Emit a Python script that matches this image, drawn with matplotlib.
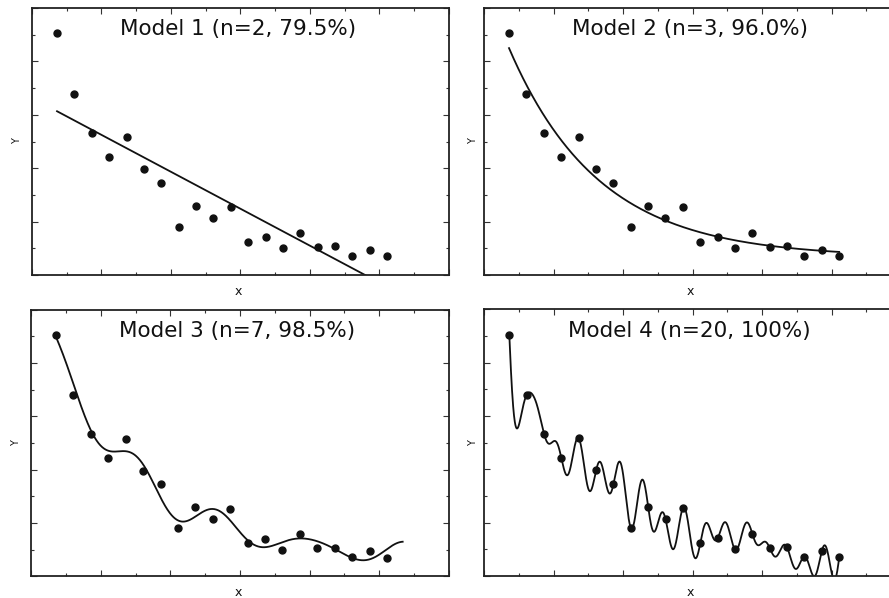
import numpy as np
import matplotlib
matplotlib.use("Agg")
import matplotlib.pyplot as plt
from matplotlib.ticker import MultipleLocator

# ---- data (x in axis units 0..6, y in axis units 0..100)
x_vals = [0.36, 0.61, 0.86, 1.11, 1.36, 1.61, 1.86, 2.11, 2.36, 2.61,
          2.86, 3.11, 3.36, 3.61, 3.86, 4.11, 4.36, 4.61, 4.86, 5.11]
y_vals = [90.5, 67.9, 53.3, 44.2, 51.6, 39.6, 34.5, 18.1, 25.9, 21.3,
          25.4, 12.3, 14.1, 10.0, 15.8, 10.5, 10.7, 7.3, 9.4, 7.0]
titles = ["Model 1 (n=2, 79.5%)", "Model 2 (n=3, 96.0%)",
          "Model 3 (n=7, 98.5%)", "Model 4 (n=20, 100%)"]
curve_ends = [5.34, 5.11, 5.335, 5.11]

x = np.array(x_vals)
y = np.array(y_vals)
N = len(x)
h = x[1] - x[0]

# ---- fitted curves derived from the data
def exp_fit():
    best = None
    for tau in np.linspace(0.2, 6, 600):
        A = np.c_[np.ones_like(x), np.exp(-x / tau)]
        c, *_ = np.linalg.lstsq(A, y, rcond=None)
        r = np.sum((A @ c - y) ** 2)
        if best is None or r < best[0]:
            best = (r, tau, c)
    return best[1], best[2]

tau, ce = exp_fit()
trend = lambda t: ce[0] + ce[1] * np.exp(-t / tau)
res = y - trend(x)

def model1(t):
    return np.polyval(np.polyfit(x, y, 1), t)

def model2(t):
    return trend(t)

def model3(t):
    ut = (t - x[0]) / h
    c = np.fft.fft(res) / N
    ks = np.argsort(-np.abs(c[1:N // 2]))[:2] + 1
    out = trend(t)
    for k in ks:
        out = out + 2 * (c[k] * np.exp(2j * np.pi * k * ut / N)).real
    return out

def harm(t, P, K, p):
    cols = []
    for k in range(1, K + 1):
        w = 2 * np.pi * k / P
        s = (k / K) ** p
        cols += [s * np.cos(w * t), s * np.sin(w * t)]
    return np.column_stack(cols)

def model4(t):
    P, K, p = 6.0, 20, 3.0
    c, *_ = np.linalg.lstsq(harm(x, P, K, p), res, rcond=None)
    return trend(t) + harm(t, P, K, p) @ c

models = [model1, model2, model3, model4]

# ---- figure
W, H = 889, 598
fig = plt.figure(figsize=(W / 100, H / 100), dpi=100)
boxes = [(32, 449, 8, 275), (484, 901, 8, 275),
         (31, 449, 309.5, 576.3), (484.3, 901, 309.3, 576)]
ylab_off = [-0.037, -0.026, -0.037, -0.026]
ink = "#111111"

for i, (l, r, t, b) in enumerate(boxes):
    ax = fig.add_axes([l / W, 1 - b / H, (r - l) / W, (b - t) / H])
    ax.set_xlim(0, 6)
    ax.set_ylim(0, 100)
    for sp in ax.spines.values():
        sp.set_linewidth(1.3)
        sp.set_color("#222222")
    ax.xaxis.set_major_locator(MultipleLocator(1))
    ax.xaxis.set_minor_locator(MultipleLocator(0.5))
    ax.yaxis.set_major_locator(MultipleLocator(20))
    ax.yaxis.set_minor_locator(MultipleLocator(10))
    ax.tick_params(which="both", direction="in", top=True, right=True,
                   labelbottom=False, labelleft=False, color="#333333", width=0.8)
    ax.tick_params(which="major", length=4)
    ax.tick_params(which="minor", length=2.5)

    ts = np.linspace(x[0], curve_ends[i], 1200)
    ax.plot(ts, models[i](ts), color=ink, lw=1.3, zorder=2)
    ax.plot(x, y, "o", color=ink, ms=5, mec=ink, zorder=3)

    ax.text(0.493, 0.92, titles[i], transform=ax.transAxes, ha="center",
            va="center", fontsize=15.5, color=ink, family="DejaVu Sans")
    ax.text(0.495, -0.06, "x", transform=ax.transAxes, ha="center",
            va="center", fontsize=9, color=ink)
    ax.text(ylab_off[i], 0.5, "Y", transform=ax.transAxes, ha="center",
            va="center", rotation=90, fontsize=7, color=ink)

fig.savefig("out.png", dpi=100)
